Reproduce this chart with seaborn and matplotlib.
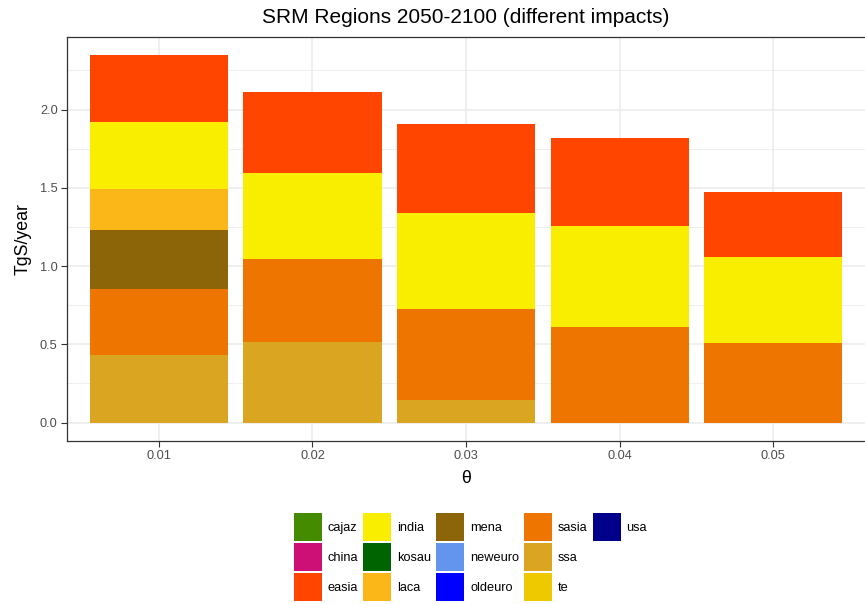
# SRM regions stacked bar chart, 2050-2100 (different impacts)

import pandas as pd
import matplotlib.pyplot as plt
import seaborn as sns
from matplotlib.patches import Patch
from matplotlib.ticker import MultipleLocator

# x categories (theta values)
thetas = ["0.01", "0.02", "0.03", "0.04", "0.05"]

# all regions in the legend, with their colours
regions = ["cajaz", "china", "easia", "india", "kosau", "laca", "mena",
           "neweuro", "oldeuro", "sasia", "ssa", "te", "usa"]
colours = ["#458B00", "#CD1076", "#FF4500", "#F9ED00", "#006400", "#FBB617",
           "#8B6508", "#6495ED", "#0000FF", "#EE7600", "#DAA520", "#EEC900",
           "#00008B"]

# TgS/year per region (other regions are zero)
easia = [0.423, 0.520, 0.567, 0.564, 0.416]
india = [0.429, 0.546, 0.615, 0.647, 0.549]
laca = [0.265, 0.0, 0.0, 0.0, 0.0]
mena = [0.376, 0.0, 0.0, 0.0, 0.0]
sasia = [0.423, 0.530, 0.585, 0.610, 0.511]
ssa = [0.430, 0.517, 0.142, 0.0, 0.0]

known = {"easia": easia, "india": india, "laca": laca, "mena": mena,
         "sasia": sasia, "ssa": ssa}

# long table for plotting
rows = []
for reg in regions:
    vals = known.get(reg, [0.0] * len(thetas))
    for t, v in zip(thetas, vals):
        rows.append({"region": reg, "theta": t, "value": v})
df = pd.DataFrame(rows)

sns.set_theme(style="white")
plt.rcParams["font.family"] = ["Liberation Sans", "DejaVu Sans"]
plt.rcParams["text.color"] = "black"
plt.rcParams["axes.labelcolor"] = "black"

fig = plt.figure(figsize=(8.65, 6.04), dpi=100)
ax = fig.add_axes([0.0771, 0.26987, 0.9235, 0.66887])

# stack from the bottom: last region first (like ggplot)
base = pd.Series(0.0, index=thetas)
colour_of = dict(zip(regions, colours))
for reg in reversed(regions):
    part = df[df["region"] == reg].set_index("theta")["value"].reindex(thetas)
    if part.sum() > 0:
        sns.barplot(x=thetas, y=part.values, order=thetas, bottom=base.values,
                    color=colour_of[reg], saturation=1, width=0.9,
                    errorbar=None, linewidth=0, ax=ax)
    base = base + part

# axes look (theme_bw)
ax.set_xlim(-0.6, 4.6)
ax.set_ylim(-0.1173, 2.4633)
ax.set_yticks([0, 0.5, 1.0, 1.5, 2.0])
ax.set_yticklabels(["0.0", "0.5", "1.0", "1.5", "2.0"])
ax.yaxis.set_minor_locator(MultipleLocator(0.25))
ax.tick_params(which="major", length=4, width=0.8, color="#333333",
               labelcolor="#4D4D4D", labelsize=9.2, pad=2.5,
               bottom=True, left=True)
ax.tick_params(which="minor", length=0)
ax.grid(which="major", color="#EBEBEB", linewidth=1.1)
ax.grid(which="minor", axis="y", color="#EBEBEB", linewidth=0.55)
ax.set_axisbelow(True)
for sp in ax.spines.values():
    sp.set_color("#333333")
    sp.set_linewidth(0.9)

ax.set_title("SRM Regions 2050-2100 (different impacts)", fontsize=15, pad=10)
ax.set_xlabel("θ", fontsize=12.8, labelpad=6)
ax.set_ylabel("TgS/year", fontsize=12.8, labelpad=6)

# legend: 5 columns, 3 rows, filled column by column
handles = [Patch(facecolor=c, edgecolor="none") for c in colours]
labels = list(regions)
handles += [Patch(visible=False), Patch(visible=False)]
labels += ["", ""]
fig.legend(handles, labels, loc="upper center",
           bbox_to_anchor=(470.5 / 865, 1 - 513 / 604), ncol=5, frameon=False,
           fontsize=9.2, handlelength=2.19, handleheight=2.99,
           handletextpad=0.45, columnspacing=0.4, labelspacing=0.16,
           borderpad=0, borderaxespad=0)

fig.savefig("out.png", dpi=100)
